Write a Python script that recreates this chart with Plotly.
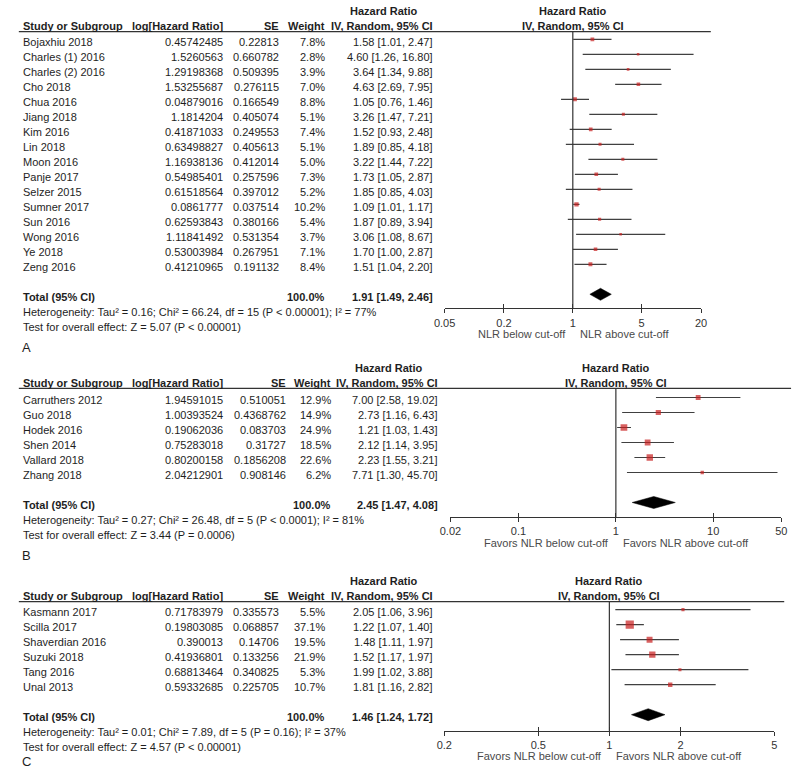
import math
import plotly.graph_objects as go

# ---------------- data ----------------
studies_a = ["Bojaxhiu 2018", "Charles (1) 2016", "Charles (2) 2016", "Cho 2018", "Chua 2016",
             "Jiang 2018", "Kim 2016", "Lin 2018", "Moon 2016", "Panje 2017", "Selzer 2015",
             "Sumner 2017", "Sun 2016", "Wong 2016", "Ye 2018", "Zeng 2016"]
loghr_a = [0.45742485, 1.5260563, 1.29198368, 1.53255687, 0.04879016, 1.1814204, 0.41871033,
           0.63498827, 1.16938136, 0.54985401, 0.61518564, 0.0861777, 0.62593843, 1.11841492,
           0.53003984, 0.41210965]
se_a = [0.22813, 0.660782, 0.509395, 0.276115, 0.166549, 0.405074, 0.249553, 0.405613, 0.412014,
        0.257596, 0.397012, 0.037514, 0.380166, 0.531354, 0.267951, 0.191132]
weight_a = [7.8, 2.8, 3.9, 7.0, 8.8, 5.1, 7.4, 5.1, 5.0, 7.3, 5.2, 10.2, 5.4, 3.7, 7.1, 8.4]
hr_a = [1.58, 4.60, 3.64, 4.63, 1.05, 3.26, 1.52, 1.89, 3.22, 1.73, 1.85, 1.09, 1.87, 3.06, 1.70, 1.51]
lo_a = [1.01, 1.26, 1.34, 2.69, 0.76, 1.47, 0.93, 0.85, 1.44, 1.05, 0.85, 1.01, 0.89, 1.08, 1.00, 1.04]
hi_a = [2.47, 16.80, 9.88, 7.95, 1.46, 7.21, 2.48, 4.18, 7.22, 2.87, 4.03, 1.17, 3.94, 8.67, 2.87, 2.20]
total_a = (1.91, 1.49, 2.46)
het_a = "Heterogeneity: Tau² = 0.16; Chi² = 66.24, df = 15 (P < 0.00001); I² = 77%"
test_a = "Test for overall effect: Z = 5.07 (P < 0.00001)"
ticks_a = [0.05, 0.2, 1, 5, 20]
ticklabels_a = ["0.05", "0.2", "1", "5", "20"]
favours_a = ("NLR below cut-off", "NLR above cut-off")

studies_b = ["Carruthers 2012", "Guo 2018", "Hodek 2016", "Shen 2014", "Vallard 2018", "Zhang 2018"]
loghr_b = [1.94591015, 1.00393524, 0.19062036, 0.75283018, 0.80200158, 2.04212901]
se_b = [0.510051, 0.4368762, 0.083703, 0.31727, 0.1856208, 0.908146]
weight_b = [12.9, 14.9, 24.9, 18.5, 22.6, 6.2]
hr_b = [7.00, 2.73, 1.21, 2.12, 2.23, 7.71]
lo_b = [2.58, 1.16, 1.03, 1.14, 1.55, 1.30]
hi_b = [19.02, 6.43, 1.43, 3.95, 3.21, 45.70]
total_b = (2.45, 1.47, 4.08)
het_b = "Heterogeneity: Tau² = 0.27; Chi² = 26.48, df = 5 (P < 0.0001); I² = 81%"
test_b = "Test for overall effect: Z = 3.44 (P = 0.0006)"
ticks_b = [0.02, 0.1, 1, 10, 50]
ticklabels_b = ["0.02", "0.1", "1", "10", "50"]
favours_b = ("Favors NLR below cut-off", "Favors NLR above cut-off")

studies_c = ["Kasmann 2017", "Scilla 2017", "Shaverdian 2016", "Suzuki 2018", "Tang 2016", "Unal 2013"]
loghr_c = [0.71783979, 0.19803085, 0.390013, 0.41936801, 0.68813464, 0.59332685]
se_c = [0.335573, 0.068857, 0.14706, 0.133256, 0.340825, 0.225705]
weight_c = [5.5, 37.1, 19.5, 21.9, 5.3, 10.7]
hr_c = [2.05, 1.22, 1.48, 1.52, 1.99, 1.81]
lo_c = [1.06, 1.07, 1.11, 1.17, 1.02, 1.16]
hi_c = [3.96, 1.40, 1.97, 1.97, 3.88, 2.82]
total_c = (1.46, 1.24, 1.72)
het_c = "Heterogeneity: Tau² = 0.01; Chi² = 7.89, df = 5 (P = 0.16); I² = 37%"
test_c = "Test for overall effect: Z = 4.57 (P < 0.00001)"
ticks_c = [0.2, 0.5, 1, 2, 5]
ticklabels_c = ["0.2", "0.5", "1", "2", "5"]
favours_c = ("Favors NLR below cut-off", "Favors NLR above cut-off")

panel_labels = ["A", "B", "C"]

# ---------------- layout geometry (pixels) ----------------
W, H = 800, 777
FONT = "Liberation Sans, Arial, sans-serif"
FS = 11
TXT = "#1e1e1e"
ROW = 15.0

geom = [
    dict(top=31.7, row0=39.3, axis_y=308.3, xpx=(443, 705), line_end=715,
         col_log=218.3, col_se=276, col_w=322.7, col_hr=433.3, label_y=347.5),
    dict(top=388.3, row0=397.5, axis_y=517.0, xpx=(449, 787), line_end=797,
         col_log=218.3, col_se=282.7, col_w=329.3, col_hr=438.7, label_y=555.5),
    dict(top=601.7, row0=609.7, axis_y=730.7, xpx=(442.7, 780), line_end=790,
         col_log=218.3, col_se=276, col_w=322.7, col_hr=433.3, label_y=761),
]

panels = [
    dict(studies=studies_a, loghr=loghr_a, se=se_a, w=weight_a, hr=hr_a, lo=lo_a, hi=hi_a,
         total=total_a, het=het_a, test=test_a, ticks=ticks_a, ticklabels=ticklabels_a, fav=favours_a),
    dict(studies=studies_b, loghr=loghr_b, se=se_b, w=weight_b, hr=hr_b, lo=lo_b, hi=hi_b,
         total=total_b, het=het_b, test=test_b, ticks=ticks_b, ticklabels=ticklabels_b, fav=favours_b),
    dict(studies=studies_c, loghr=loghr_c, se=se_c, w=weight_c, hr=hr_c, lo=lo_c, hi=hi_c,
         total=total_c, het=het_c, test=test_c, ticks=ticks_c, ticklabels=ticklabels_c, fav=favours_c),
]


def px(x):
    return x / W


def py(y):
    return 1 - y / H


fig = go.Figure()
annotations = []
shapes = []
layout_axes = {}

TEXT_DY = 2.5


def ann(x, y, text, anchor="left", bold=False, size=FS, color=TXT, xref="paper", xshift=0):
    annotations.append(dict(
        x=x, y=py(y), xref=xref, yref="paper", text=("<b>%s</b>" % text) if bold else text,
        showarrow=False, xanchor=anchor, yanchor="middle", xshift=xshift,
        font=dict(family=FONT, size=size, color=color)))


for k, (p, g) in enumerate(zip(panels, geom)):
    n = k + 1
    xa = "x" if n == 1 else "x%d" % n
    ya = "y" if n == 1 else "y%d" % n
    xa_ov = "x%d" % (n + 3)
    nrows = len(p["studies"])
    total_row = nrows + 1
    total_px = g["row0"] + ROW * total_row
    lo_ax, hi_ax = p["ticks"][0], p["ticks"][-1]
    xrange = [math.log10(lo_ax), math.log10(hi_ax)]

    # axes
    axis_common = dict(type="log", range=xrange, tickvals=p["ticks"], showgrid=False,
                       zeroline=False, fixedrange=True)
    layout_axes["xaxis" if n == 1 else "xaxis%d" % n] = dict(
        axis_common, domain=[px(g["xpx"][0]), px(g["xpx"][1])], anchor=ya,
        ticktext=p["ticklabels"], ticks="outside", ticklen=4, tickwidth=1.2, tickcolor="#333",
        showline=True, linecolor="#333", linewidth=1.3,
        tickfont=dict(family=FONT, size=FS, color="#333"))
    layout_axes["xaxis%d" % (n + 3)] = dict(
        axis_common, overlaying=xa, anchor=ya, ticks="inside", ticklen=4, tickwidth=1.2,
        tickcolor="#333", showline=False, showticklabels=False)
    layout_axes["yaxis" if n == 1 else "yaxis%d" % n] = dict(
        domain=[py(g["axis_y"]), py(g["top"])],
        range=[(g["axis_y"] - g["row0"]) / ROW, (g["top"] - g["row0"]) / ROW],
        visible=False, fixedrange=True)

    rows = list(range(nrows))
    # CI lines
    lx, ly = [], []
    for i in rows:
        lx += [p["lo"][i], p["hi"][i], None]
        ly += [i, i, None]
    fig.add_trace(go.Scatter(x=lx, y=ly, mode="lines", xaxis=xa, yaxis=ya,
                             line=dict(color="#404040", width=1.2), hoverinfo="skip", showlegend=False))
    # squares
    fig.add_trace(go.Scatter(x=p["hr"], y=rows, mode="markers", xaxis=xa, yaxis=ya,
                             marker=dict(symbol="square", color="#c81e1e",
                                         size=[max(2.5, 1.35 * math.sqrt(w)) for w in p["w"]],
                                         line=dict(width=0)),
                             showlegend=False))
    # diamond
    t_hr, t_lo, t_hi = p["total"]
    dh = 0.4
    fig.add_trace(go.Scatter(x=[t_lo, t_hr, t_hi, t_hr, t_lo],
                             y=[total_row, total_row - dh, total_row, total_row + dh, total_row],
                             mode="lines", fill="toself", fillcolor="black",
                             line=dict(color="black", width=0.5), xaxis=xa, yaxis=ya,
                             hoverinfo="skip", showlegend=False))
    # dummy trace for overlay axis
    fig.add_trace(go.Scatter(x=[None], y=[None], xaxis=xa_ov, yaxis=ya, mode="markers",
                             showlegend=False, hoverinfo="skip"))

    # null line
    shapes.append(dict(type="line", xref=xa, yref=ya + " domain", x0=1, x1=1, y0=0, y1=1,
                       line=dict(color="#333", width=1.2)))
    # header line
    shapes.append(dict(type="line", xref="paper", yref="paper", x0=px(8), x1=px(g["line_end"]),
                       y0=py(g["top"]), y1=py(g["top"]), line=dict(color="#333", width=1.3)))

    # headers
    hy1 = g["top"] - 5.5
    hy0 = g["top"] - 20.5
    ann(px(10), hy1, "Study or Subgroup", "left", True)
    ann(px(g["col_log"]), hy1, "log[Hazard Ratio]", "right", True)
    ann(px(g["col_se"]), hy1, "SE", "right", True)
    ann(px(g["col_w"]), hy1, "Weight", "right", True)
    ann(px(g["col_hr"]), hy1, "IV, Random, 95% CI", "right", True)
    ann(px(g["col_hr"] - 52), hy0, "Hazard Ratio", "center", True)
    ann(0, hy0, "Hazard Ratio", "center", True, xref=xa)
    ann(0, hy1, "IV, Random, 95% CI", "center", True, xref=xa)

    # rows
    for i in rows:
        yy = g["row0"] + ROW * i + TEXT_DY
        ann(px(10), yy, p["studies"][i], "left")
        ann(px(g["col_log"]), yy, repr(p["loghr"][i]), "right")
        ann(px(g["col_se"]), yy, repr(p["se"][i]), "right")
        ann(px(g["col_w"]), yy, "%.1f%%" % p["w"][i], "right")
        ann(px(g["col_hr"]), yy, "%.2f [%.2f, %.2f]" % (p["hr"][i], p["lo"][i], p["hi"][i]), "right")

    ty = total_px + TEXT_DY
    ann(px(10), ty, "Total (95% CI)", "left", True)
    ann(px(g["col_w"]), ty, "100.0%", "right", True)
    ann(px(g["col_hr"]), ty, "%.2f [%.2f, %.2f]" % (t_hr, t_lo, t_hi), "right", True)
    ann(px(10), total_px + 17.5, p["het"], "left")
    ann(px(10), total_px + 32.5, p["test"], "left")
    ann(px(9), g["label_y"], panel_labels[k], "left", size=13)

    # favours
    fy = g["axis_y"] + 25.5
    ann(0, fy, p["fav"][0], "right", color="#4a4a4a", xref=xa, xshift=-5)
    ann(0, fy, p["fav"][1], "left", color="#4a4a4a", xref=xa, xshift=5)

fig.update_layout(
    width=W, height=H, margin=dict(l=0, r=0, t=0, b=0),
    paper_bgcolor="white", plot_bgcolor="rgba(0,0,0,0)",
    showlegend=False, annotations=annotations, shapes=shapes,
    font=dict(family=FONT, size=FS, color=TXT),
    **layout_axes)

fig.write_html("out.html", config={"displayModeBar": False},
               post_script="document.body.style.margin='0px';document.body.style.overflow='hidden';")
